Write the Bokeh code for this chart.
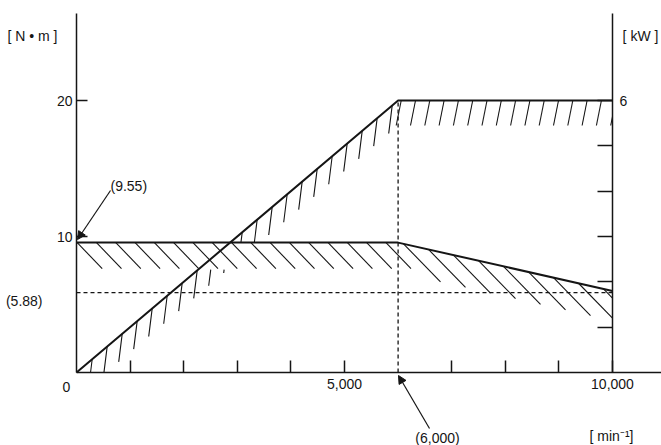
import numpy as np
from bokeh.plotting import figure
from bokeh.models import Range1d, FixedTicker, Label, Arrow, NormalHead, LinearAxis
from bokeh.embed import file_html
from bokeh.resources import INLINE

# ---------------- data ----------------
speed = [0, 6000, 10000]          # [min^-1]
torque = [9.55, 9.55, 6.0]        # [N·m]
power = [0.0, 6.0, 6.0]           # [kW]
base_speed = 6000
max_speed = 10000
rated_torque = 9.55
ref_torque = 5.88
torque_ticks = [10, 20]
power_ticks = [1, 2, 3, 4, 5, 6]
power_tick_labels = {6: "6"}
speed_ticks = [1000, 2000, 3000, 4000, 5000, 7000, 8000, 9000, 10000]
speed_tick_labels = {5000: "5,000", 10000: "10,000"}
KW_PER_NM = 6 / 20                # right axis: 6 kW at the 20 N·m level

# ---------------- layout ----------------
W, H = 661, 445
ORIGIN_X, ORIGIN_Y = 76, 372      # pixel position of (0, 0)
PX_PER_KRPM = 53.6
PX_PER_NM = 13.6
AXIS_TOP_PX = 13
FONT = "Liberation Sans"
INK = "#151515"


def sx(px):
    return px * 1000.0 / PX_PER_KRPM


def sy(px):
    return px / PX_PER_NM


def X(px):
    return sx(px - ORIGIN_X)


def Y(py):
    return sy(ORIGIN_Y - py)


Y_TOP = Y(AXIS_TOP_PX)

p = figure(width=W, height=H, output_backend="svg", toolbar_location=None,
           x_range=Range1d(X(0), X(W)), y_range=Range1d(Y(H), Y(0)),
           x_axis_location=None, y_axis_location=None,
           min_border=0, min_border_left=0, min_border_right=0,
           min_border_top=0, min_border_bottom=0)
p.extra_y_ranges = {"kw": Range1d(Y(H) * KW_PER_NM, Y(0) * KW_PER_NM)}
p.outline_line_color = None
p.xgrid.visible = False
p.ygrid.visible = False
p.background_fill_color = "white"
p.border_fill_color = "white"


def style_axis(ax, tick_in):
    ax.major_tick_in = tick_in
    ax.major_tick_out = 0
    ax.minor_tick_in = 0
    ax.minor_tick_out = 0
    ax.axis_line_width = 1.5
    ax.axis_line_color = INK
    ax.major_tick_line_width = 1.5
    ax.major_tick_line_color = INK
    ax.major_label_text_font = FONT
    ax.major_label_text_font_size = "14px"
    ax.major_label_text_color = INK


# left axis (torque)
ya = LinearAxis(fixed_location=0, ticker=FixedTicker(ticks=torque_ticks),
                bounds=(0, Y_TOP))
style_axis(ya, 11)
ya.major_label_standoff = 4
p.add_layout(ya, "left")

# right axis (power)
ra = LinearAxis(fixed_location=max_speed, y_range_name="kw",
                ticker=FixedTicker(ticks=power_ticks), bounds=(0, Y_TOP * KW_PER_NM))
ra.major_label_overrides = {t: power_tick_labels.get(t, "") for t in power_ticks}
style_axis(ra, 15)
ra.major_label_standoff = 7
p.add_layout(ra, "right")

# bottom axis (speed)
xa = LinearAxis(fixed_location=0, ticker=FixedTicker(ticks=speed_ticks),
                bounds=(0, X(W)))
xa.major_label_overrides = {t: speed_tick_labels.get(t, "") for t in speed_ticks}
style_axis(xa, 12)
xa.major_label_standoff = 6
p.add_layout(xa, "below")

# dashed guides
p.line([base_speed, base_speed], [0, power[1] / KW_PER_NM], line_color=INK,
       line_width=1.3, line_dash="4 3")
p.line([0, max_speed], [ref_torque, ref_torque], line_color=INK,
       line_width=1.3, line_dash="4 3")

# main curves
p.line(speed, torque, line_color=INK, line_width=2)
p.line(speed, power, y_range_name="kw", line_color=INK, line_width=2)

# ---------------- hatching ----------------
sp = np.array(speed, float)
tq = np.array(torque, float)
pw_nm = np.array(power, float) / KW_PER_NM


def clip_x(seg, xmax):
    if seg is None:
        return None
    x0, y0, x1, y1 = seg
    if x0 > xmax and x1 > xmax:
        return None
    if x0 > xmax:
        t = (xmax - x1) / (x0 - x1)
        x0, y0 = xmax, y1 + t * (y0 - y1)
    if x1 > xmax:
        t = (xmax - x0) / (x1 - x0)
        x1, y1 = xmax, y0 + t * (y1 - y0)
    return x0, y0, x1, y1


def clip_y0(seg):
    if seg is None:
        return None
    x0, y0, x1, y1 = seg
    if y0 <= 0:
        return None
    if y1 < 0:
        t = y0 / (y0 - y1)
        x1, y1 = x0 + t * (x1 - x0), 0.0
    return x0, y0, x1, y1


hx0, hy0, hx1, hy1 = [], [], [], []


def add(seg):
    if seg is None:
        return
    hx0.append(seg[0]); hy0.append(seg[1]); hx1.append(seg[2]); hy1.append(seg[3])


# torque, constant part
for k in range(17):
    x = sx(0.7 + 19.3 * k)
    y = np.interp(x, sp, tq)
    add((x, y, x + sx(25), y - sy(26)))
# torque, falling part
for k in range(9):
    x = sx(327 + 25 * k)
    y = np.interp(x, sp, tq)
    add(clip_x((x, y, x + sx(37), y - sy(38)), max_speed))

band_top = rated_torque
band_bot = rated_torque - sy(27)
# power, rising part
for k in range(21):
    x0 = sx(15.7 + 15 * k)
    y0 = np.interp(x0, sp, pw_nm)
    x1, y1 = x0 - sx(3.5), y0 - sy(28)
    if y0 > band_top and y1 < band_top:
        t = (y0 - band_top) / (y0 - y1)
        x1, y1 = x0 + t * (x1 - x0), band_top
    elif band_bot <= y0 <= band_top:
        if y1 >= band_bot:
            continue
        t = (y0 - band_bot) / (y0 - y1)
        x0, y0 = x0 + t * (x1 - x0), band_bot
    add(clip_y0((x0, y0, x1, y1)))
# power, constant part
for k in range(16):
    x = sx(324.7 + 14.3 * k)
    y = np.interp(x, sp, pw_nm)
    add(clip_x((x, y, x - sx(5), y - sy(25)), max_speed))

p.segment(x0=hx0, y0=hy0, x1=hx1, y1=hy1, line_color=INK, line_width=1.1)

# ---------------- annotations ----------------
head = dict(size=8, line_color=INK, fill_color=INK, line_width=1)
p.add_layout(Arrow(end=NormalHead(**head), x_start=X(110), y_start=Y(190),
                   x_end=X(77), y_end=Y(239), line_color=INK, line_width=1.2))
p.add_layout(Arrow(end=NormalHead(**head), x_start=X(429), y_start=Y(428),
                   x_end=X(398), y_end=Y(375), line_color=INK, line_width=1.2))


def lab(px, py, text, align="left"):
    p.add_layout(Label(x=X(px), y=Y(py), text=text, text_font=FONT, text_font_size="14px",
                       text_color=INK, text_align=align, text_baseline="middle"))


lab(110, 185, "(9.55)")
lab(42, 300, "(5.88)", "right")
lab(66, 386, "0", "center")
lab(437, 437, "(6,000)", "center")
lab(611, 435, "[ min\u207b\u00b9]", "center")
lab(32, 35, "[ N \u2022 m ]", "center")
lab(640, 35, "[ kW ]", "center")

open("out.html", "w").write(file_html(p, INLINE))
